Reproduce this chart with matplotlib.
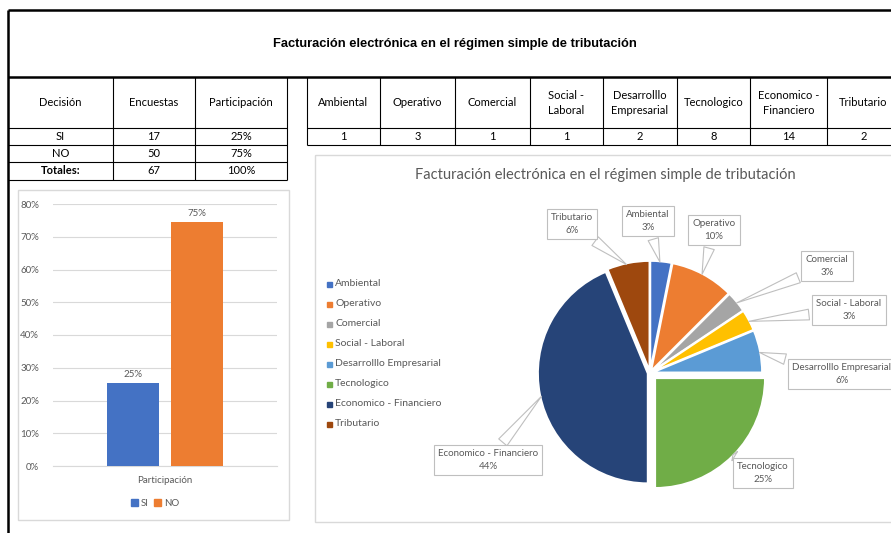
import matplotlib
matplotlib.use('Agg')
import matplotlib.pyplot as plt
import numpy as np
from matplotlib.patches import Rectangle, Patch
from matplotlib.ticker import PercentFormatter

plt.rcParams['font.family'] = ['Lato', 'DejaVu Sans']

# ---- data read from the sheet ----
titulo = 'Facturación electrónica en el régimen simple de tributación'
decisiones = ['SI', 'NO']
encuestas = [17, 50]
participacion = [0.254, 0.746]
total_encuestas = 67
total_part = '100%'
part_labels = ['25%', '75%']

categorias = ['Ambiental', 'Operativo', 'Comercial', 'Social - Laboral',
              'Desarrolllo Empresarial', 'Tecnologico', 'Economico - Financiero',
              'Tributario']
cabeceras = ['Ambiental', 'Operativo', 'Comercial', 'Social -\nLaboral',
             'Desarrolllo\nEmpresarial', 'Tecnologico', 'Economico -\nFinanciero',
             'Tributario']
conteos = [1, 3, 1, 1, 2, 8, 14, 2]
pct_labels = ['3%', '10%', '3%', '3%', '6%', '25%', '44%', '6%']

colores = ['#4472C4', '#ED7D31', '#A5A5A5', '#FFC000', '#5B9BD5', '#70AD47',
           '#264478', '#9E480E']
GRIS = '#595959'
LINEA = '#D9D9D9'

W, H = 891, 533
fig = plt.figure(figsize=(W / 100, H / 100), dpi=100)
bg = fig.add_axes([0, 0, 1, 1])
bg.set_xlim(0, W)
bg.set_ylim(H, 0)
bg.axis('off')


def hl(y, x0, x1, lw=0.8, c='black'):
    bg.plot([x0, x1], [y, y], color=c, lw=lw, solid_capstyle='butt')


def vl(x, y0, y1, lw=0.8, c='black'):
    bg.plot([x, x], [y0, y1], color=c, lw=lw, solid_capstyle='butt')


# outer frame / title cell
hl(10, 8, W, lw=1.8)
hl(77, 8, W, lw=1.8)
vl(8, 10, H, lw=1.8)
bg.text(455, 44, titulo, ha='center', va='center', fontsize=9.3,
        fontweight='bold', family='Liberation Sans')

# left table
cols_l = [8, 113, 195, 287]
rows_l = [77, 128, 145, 162, 180]
for y in rows_l[1:]:
    hl(y, cols_l[0], cols_l[-1])
for x in cols_l[1:]:
    vl(x, rows_l[0], rows_l[-1])
cx = [(a + b) / 2 for a, b in zip(cols_l[:-1], cols_l[1:])]
for x, t in zip(cx, ['Decisión', 'Encuestas', 'Participación']):
    bg.text(x, 103, t, ha='center', va='center', fontsize=8)
for i, (d, e, p) in enumerate(zip(decisiones, encuestas, part_labels)):
    yc = (rows_l[i + 1] + rows_l[i + 2]) / 2
    for x, t in zip(cx, [d, str(e), p]):
        bg.text(x, yc, t, ha='center', va='center', fontsize=8)
yc = (rows_l[3] + rows_l[4]) / 2
bg.text(cx[0], yc, 'Totales:', ha='center', va='center', fontsize=8, fontweight='bold')
bg.text(cx[1], yc, str(total_encuestas), ha='center', va='center', fontsize=8)
bg.text(cx[2], yc, total_part, ha='center', va='center', fontsize=8)

# right table
cols_r = [307, 380, 455, 530, 603, 677, 750, 827, 900]
hl(128, cols_r[0], W)
hl(145, cols_r[0], W)
for x in cols_r[:-1]:
    vl(x, 77, 145)
for i, (h, n) in enumerate(zip(cabeceras, conteos)):
    xc = (cols_r[i] + cols_r[i + 1]) / 2
    bg.text(xc, 103, h, ha='center', va='center', fontsize=8, linespacing=1.5)
    bg.text(xc, 137, str(n), ha='center', va='center', fontsize=8)

# chart frames
bg.add_patch(Rectangle((18, 190), 271, 330, fill=False, ec=LINEA, lw=1))
bg.add_patch(Rectangle((315, 155), 590, 367, fill=False, ec=LINEA, lw=1))

# ---- bar chart ----
ax = fig.add_axes([53 / W, (H - 466) / H, 224 / W, 262 / H])
off = [-0.143, 0.143]
for i in range(len(decisiones)):
    ax.bar(off[i], participacion[i], width=0.228, color=colores[i], zorder=3)
    ax.text(off[i], participacion[i] + 0.012, part_labels[i], ha='center',
            va='bottom', fontsize=7, color=GRIS)
ax.set_xlim(-0.5, 0.5)
ax.set_ylim(0, 0.8)
ax.set_yticks([i / 10 for i in range(9)])
ax.yaxis.set_major_formatter(PercentFormatter(1.0, decimals=0))
ax.set_xticks([0])
ax.set_xticklabels(['Participación'])
ax.tick_params(length=0, labelsize=7, labelcolor=GRIS)
ax.tick_params(axis='y', pad=10)
ax.tick_params(axis='x', pad=7)
ax.grid(axis='y', color=LINEA, lw=0.8, zorder=0)
for s in ['top', 'right', 'left']:
    ax.spines[s].set_visible(False)
ax.spines['bottom'].set_color(LINEA)
ax.set_facecolor('none')
ax.legend(handles=[Patch(color=c, label=l) for c, l in zip(colores[:2], decisiones)],
          loc='center', bbox_to_anchor=(155 / W, (H - 503) / H),
          bbox_transform=fig.transFigure, ncol=2, frameon=False, fontsize=7,
          handlelength=0.7, handleheight=0.7, handletextpad=0.3,
          columnspacing=0.6, labelcolor=GRIS)

# ---- pie chart ----
PX, PY, R = 650, 373, 110
pa = fig.add_axes([315 / W, (H - 522) / H, 576 / W, 367 / H])
explode = [0.02] * len(conteos)
explode[5] = 0.065
wedges, _ = pa.pie(conteos, colors=colores, startangle=90, counterclock=False,
                   explode=explode, wedgeprops=dict(ec='white', lw=1.5))
pa.set_xlim((315 - PX) / R, (891 - PX) / R)
pa.set_ylim((PY - 522) / R, (PY - 155) / R)
pa.axis('off')


def p2d(x, y):
    return ((x - PX) / R, (PY - y) / R)


lab_pos = [(648, 221), (714, 230), (827, 266), (849, 310), (842, 374),
           (763, 473), (488, 460), (572, 224)]
for w, cat, pct, pos in zip(wedges, categorias, pct_labels, lab_pos):
    ang = np.deg2rad((w.theta1 + w.theta2) / 2)
    cxw, cyw = w.center
    anchor = (cxw + 0.97 * np.cos(ang), cyw + 0.97 * np.sin(ang))
    pa.annotate(f'{cat}\n{pct}', xy=anchor, xytext=p2d(*pos),
                ha='center', va='center', fontsize=7, color=GRIS,
                linespacing=1.5,
                bbox=dict(boxstyle='square,pad=0.45', fc='white', ec='#BFBFBF', lw=0.8),
                arrowprops=dict(arrowstyle='wedge,tail_width=1.1,shrink_factor=0.5',
                                fc='white', ec='#BFBFBF', lw=0.8))

bg.text(605, 175, titulo, ha='center', va='center', fontsize=10.5, color=GRIS)

# pie legend
for i, (cat, c) in enumerate(zip(categorias, colores)):
    y = 284 + i * 20
    bg.add_patch(Rectangle((327, y - 2.5), 5, 5, color=c))
    bg.text(335, y, cat, ha='left', va='center', fontsize=7.5, color=GRIS)

fig.savefig('out.png', dpi=100)
